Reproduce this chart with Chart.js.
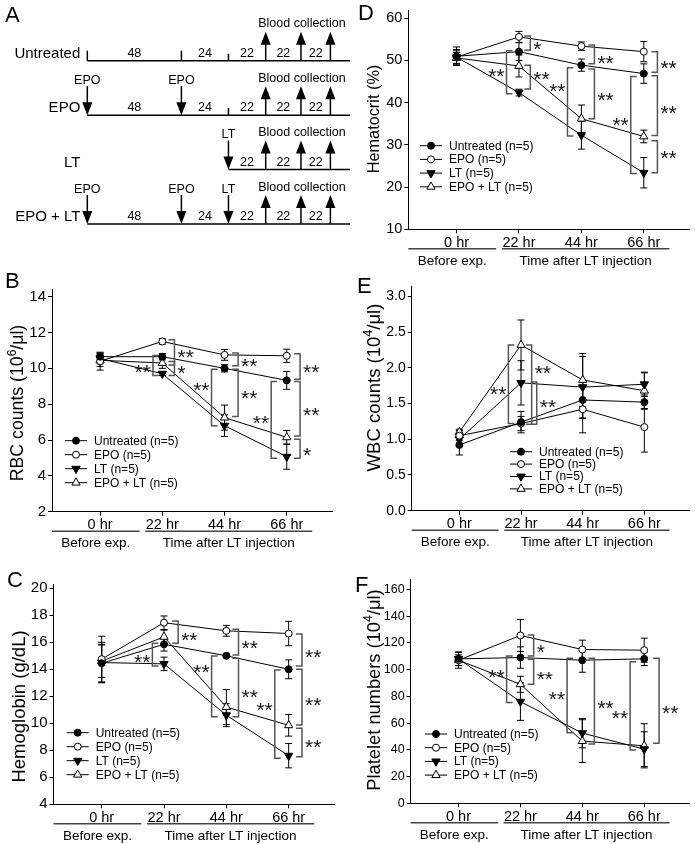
<!DOCTYPE html>
<html><head><meta charset="utf-8">
<script src="https://cdn.jsdelivr.net/npm/chart.js@4.4.1/dist/chart.umd.min.js"></script>
<style>
html,body{margin:0;padding:0;background:#fff;}
#fig{position:relative;width:695px;height:844px;overflow:hidden;font-family:"Liberation Sans",Arial,Helvetica,sans-serif;}
canvas{position:absolute;}
.lab{position:absolute;font-size:22px;line-height:1;color:#000;}
</style></head><body><div id="fig">
<canvas id="cA"></canvas><canvas id="cB"></canvas><canvas id="cC"></canvas>
<canvas id="cD"></canvas><canvas id="cE"></canvas><canvas id="cF"></canvas>
<div class="lab" style="left:5px;top:4px">A</div>
<div class="lab" style="left:5px;top:270px">B</div>
<div class="lab" style="left:7px;top:569px">C</div>
<div class="lab" style="left:358px;top:2px">D</div>
<div class="lab" style="left:357px;top:275px">E</div>
<div class="lab" style="left:355px;top:574px">F</div>
</div>
<script>
// ---------------- DATA ----------------
const hours = [0, 22, 44, 66];
const timeLabels = ['0 hr', '22 hr', '44 hr', '66 hr'];
const groupLabels = ['Before exp.', 'Time after LT injection'];
const groupSpans = [[-17, 14], [16, 75]];
const seriesNames = ['Untreated (n=5)', 'EPO (n=5)', 'LT (n=5)', 'EPO + LT (n=5)'];

// Panel A (schematic)
const groupRows = ['Untreated', 'EPO', 'LT', 'EPO + LT'];
const schemePos = [0, 48, 72, 91, 109, 124];   // schematic positions of events
const schemeEnd = 134;
const intervalLabels = ['48', '24', '22', '22', '22'];
const rowStart = [0, 0, 2, 0];
const rowInjections = [[], [[0, 'EPO'], [1, 'EPO']], [[2, 'LT']], [[0, 'EPO'], [1, 'EPO'], [2, 'LT']]];
const rowTicks = [[0, 1, 2], [2], [], []];
const collectIdx = [3, 4, 5];
const collectLabel = 'Blood collection';

// Panel B: RBC counts
const rbcTicks = [2, 4, 6, 8, 10, 12, 14];
const rbcUntreated = [10.65, 10.65, 10.0, 9.33];
const rbcUntreatedErr = [0.2, 0.18, 0.2, 0.5];
const rbcEPO = [10.4, 11.5, 10.75, 10.7];
const rbcEPOErr = [0.5, 0.15, 0.3, 0.37];
const rbcLT = [10.55, 9.7, 6.8, 5.07];
const rbcLTErr = [0.3, 0.1, 0.6, 0.7];
const rbcEPOLT = [10.45, 10.3, 7.25, 6.15];
const rbcEPOLTErr = [0.35, 0.3, 0.7, 0.38];
// significance brackets: [time, side, y1, y2, text, textY, dxHours]
const rbcSig = [
  [22, 'R', 11.59, 10.19, '**', 10.92, 4.3], [22, 'L', 10.72, 9.6, '**', 10.1, -3.3],
  [22, 'R', 10.38, 9.6, '*', 10.0, 4.3], [44, 'R', 10.85, 10.14, '**', 10.42, 4.8],
  [44, 'L', 9.95, 6.79, '**', 9.08, -4.6], [44, 'R', 9.95, 7.31, '**', 8.6, 4.8],
  [66, 'R', 10.81, 9.39, '**', 10.1, 4.7], [66, 'L', 9.26, 4.98, '**', 7.21, -5.5],
  [66, 'R', 9.26, 6.23, '**', 7.68, 4.7], [66, 'R', 6.04, 4.98, '*', 5.44, 4.7]
];

// Panel C: Hemoglobin
const hbTicks = [4, 6, 8, 10, 12, 14, 16, 18, 20];
const hbUntreated = [14.45, 15.85, 15.0, 14.0];
const hbUntreatedErr = [1.4, 0.5, 0.1, 0.7];
const hbEPO = [14.75, 17.45, 16.85, 16.65];
const hbEPOErr = [1.7, 0.5, 0.4, 0.9];
const hbLT = [14.5, 14.4, 10.6, 7.6];
const hbLTErr = [1.5, 0.5, 0.85, 0.9];
const hbEPOLT = [14.6, 16.4, 11.2, 9.85];
const hbEPOLTErr = [1.2, 0.5, 1.3, 0.8];
const hbSig = [
  [22, 'R', 17.58, 15.93, '**', 16.54, 5.0], [22, 'L', 15.93, 14.25, '**', 14.94, -4.1],
  [44, 'R', 16.96, 15.06, '**', 15.93, 4.3], [44, 'L', 14.99, 10.49, '**', 14.2, -5.2],
  [44, 'R', 14.81, 10.49, '**', 12.35, 4.3], [66, 'R', 16.62, 14.25, '**', 15.3, 4.7],
  [66, 'L', 13.95, 7.41, '**', 11.36, -4.9], [66, 'R', 14.0, 9.88, '**', 11.73, 4.7],
  [66, 'R', 9.63, 7.53, '**', 8.64, 4.7]
];

// Panel D: Hematocrit
const hctTicks = [10, 20, 30, 40, 50, 60];
const hctUntreated = [51.0, 52.1, 48.9, 46.9];
const hctUntreatedErr = [2.2, 2.1, 1.45, 2.3];
const hctEPO = [50.8, 55.6, 53.4, 52.1];
const hctEPOErr = [1.8, 1.3, 1.0, 2.4];
const hctLT = [50.8, 42.4, 32.3, 23.4];
const hctLTErr = [1.5, 0.8, 3.3, 3.6];
const hctEPOLT = [50.6, 48.7, 36.2, 32.0];
const hctEPOLTErr = [1.3, 2.6, 3.25, 1.5];
const hctSig = [
  [22, 'R', 55.8, 52.4, '*', 53.9, 4.0], [22, 'L', 52.3, 42.1, '**', 47.4, -4.4],
  [22, 'R', 48.9, 43.25, '**', 46.9, 4.0], [44, 'R', 53.7, 49.2, '**', 50.7, 4.6],
  [44, 'L', 48.3, 32.1, '**', 44.0, -4.9], [44, 'R', 47.97, 36.2, '**', 41.9, 4.6],
  [66, 'R', 52.1, 47.2, '**', 49.3, 4.8], [66, 'L', 46.2, 23.2, '**', 36.0, -4.6],
  [66, 'R', 46.4, 32.2, '**', 38.8, 4.8], [66, 'R', 31.0, 23.4, '**', 28.1, 4.8]
];

// Panel E: WBC counts
const wbcTicks = [0, 0.5, 1.0, 1.5, 2.0, 2.5, 3.0];
const wbcUntreated = [0.92, 1.24, 1.55, 1.52];
const wbcUntreatedErr = [0.14, 0.15, 0.26, 0.1];
const wbcEPO = [1.05, 1.22, 1.42, 1.17];
const wbcEPOErr = [0.07, 0.1, 0.33, 0.35];
const wbcLT = [1.0, 1.79, 1.73, 1.77];
const wbcLTErr = [0.1, 0.31, 0.43, 0.17];
const wbcEPOLT = [1.1, 2.32, 1.83, 1.68];
const wbcEPOLTErr = [0.04, 0.35, 0.37, 0.25];
const wbcSig = [
  [22, 'L', 2.32, 1.22, '**', 1.70, -4.5], [22, 'R', 2.32, 1.21, '**', 2.0, 3.8],
  [22, 'R', 1.80, 1.21, '**', 1.52, 5.6]
];

// Panel F: Platelet numbers
const pltTicks = [0, 20, 40, 60, 80, 100, 120, 140, 160];
const pltUntreated = [108, 109, 107, 108];
const pltUntreatedErr = [5, 8, 9, 5];
const pltEPO = [107, 125.5, 115, 114.5];
const pltEPOErr = [4, 12, 7, 9];
const pltLT = [108, 76, 52.5, 40.5];
const pltLTErr = [5, 14, 11, 13];
const pltEPOLT = [107, 89, 46.5, 43];
const pltEPOLTErr = [6, 6, 16, 16.5];
const pltSig = [
  [22, 'R', 125.9, 110.2, '*', 116.6, 4.7], [22, 'L', 110.2, 75.3, '**', 98.4, -4.9],
  [22, 'R', 107.7, 89.0, '**', 96.7, 4.7], [44, 'L', 108.4, 52.8, '**', 81.7, -5.4],
  [44, 'R', 108.4, 44.4, '**', 75.3, 4.3], [66, 'L', 105.9, 39.9, '**', 67.3, -5.0],
  [66, 'R', 108.4, 44.9, '**', 71.0, 5.3]
];

// ---------------- STYLE / HELPERS ----------------
const FONT = '"Liberation Sans", Arial, Helvetica, sans-serif';
Chart.defaults.font.family = FONT;
Chart.defaults.color = '#000';

const markerStyles = [
  {style: 'circle', rot: 0, r: 3.5, fill: '#000'},
  {style: 'circle', rot: 0, r: 3.5, fill: '#fff'},
  {style: 'triangle', rot: 180, r: 4.8, fill: '#000'},
  {style: 'triangle', rot: 0, r: 4.8, fill: '#fff'}
];

function drawMarker(ctx, m, x, y) {
  ctx.save();
  ctx.beginPath();
  if (m.style === 'circle') {
    ctx.arc(x, y, m.r, 0, Math.PI * 2);
  } else {
    let a = m.rot * Math.PI / 180;
    for (let k = 0; k < 3; k++) {
      const px = x + Math.sin(a) * m.r, py = y - Math.cos(a) * m.r;
      if (k === 0) ctx.moveTo(px, py); else ctx.lineTo(px, py);
      a += Math.PI * 2 / 3;
    }
    ctx.closePath();
  }
  ctx.fillStyle = m.fill; ctx.fill();
  ctx.lineWidth = 1; ctx.strokeStyle = '#000'; ctx.stroke();
  ctx.restore();
}

const errPlugin = {
  id: 'errbars',
  beforeDatasetsDraw(chart) {
    const {ctx, scales: {x, y}} = chart;
    ctx.save();
    ctx.strokeStyle = '#000'; ctx.lineWidth = 1;
    chart.data.datasets.forEach(ds => {
      ds.data.forEach((p, j) => {
        const e = ds.errors[j];
        const px = x.getPixelForValue(p.x);
        const y1 = y.getPixelForValue(p.y + e), y2 = y.getPixelForValue(p.y - e);
        ctx.beginPath();
        ctx.moveTo(px, y1); ctx.lineTo(px, y2);
        ctx.moveTo(px - 3.5, y1); ctx.lineTo(px + 3.5, y1);
        ctx.moveTo(px - 3.5, y2); ctx.lineTo(px + 3.5, y2);
        ctx.stroke();
      });
    });
    ctx.restore();
  }
};

const sigPlugin = {
  id: 'sig',
  afterDatasetsDraw(chart, args, o) {
    const {ctx, scales: {x, y}} = chart;
    ctx.save();
    o.items.forEach(([t, side, v1, v2, txt, tv, dx]) => {
      const xb = x.getPixelForValue(t + dx);
      const y1 = y.getPixelForValue(v1), y2 = y.getPixelForValue(v2);
      const arm = side === 'R' ? -6 : 6;
      ctx.strokeStyle = '#555'; ctx.lineWidth = 1.5;
      ctx.beginPath();
      ctx.moveTo(xb + arm, y1); ctx.lineTo(xb, y1); ctx.lineTo(xb, y2); ctx.lineTo(xb + arm, y2);
      ctx.stroke();
      ctx.fillStyle = '#1a1a1a';
      ctx.font = '21px ' + FONT;
      ctx.textBaseline = 'alphabetic';
      const ty = y.getPixelForValue(tv) + 12;
      if (side === 'R') { ctx.textAlign = 'left'; ctx.fillText(txt, xb + 3, ty); }
      else { ctx.textAlign = 'right'; ctx.fillText(txt, xb - 2, ty); }
    });
    ctx.restore();
  }
};

const keyPlugin = {
  id: 'keylegend',
  afterDraw(chart, args, o) {
    const ctx = chart.ctx;
    ctx.save();
    chart.data.datasets.forEach((ds, i) => {
      const yy = o.y + i * o.dy;
      ctx.strokeStyle = '#000'; ctx.lineWidth = 1;
      ctx.beginPath(); ctx.moveTo(o.x, yy); ctx.lineTo(o.x + 22, yy); ctx.stroke();
      drawMarker(ctx, markerStyles[i], o.x + 11, yy);
      ctx.fillStyle = '#000'; ctx.font = '12px ' + FONT;
      ctx.textAlign = 'left'; ctx.textBaseline = 'middle';
      ctx.fillText(ds.label, o.x + 29, yy + 0.5);
    });
    ctx.restore();
  }
};

const groupPlugin = {
  id: 'groups',
  afterDraw(chart) {
    const {ctx, chartArea, scales: {x}} = chart;
    ctx.save();
    groupSpans.forEach((sp, i) => {
      const x1 = x.getPixelForValue(sp[0]), x2 = x.getPixelForValue(sp[1]);
      const ly = chartArea.bottom + 19.5;
      ctx.strokeStyle = '#444'; ctx.lineWidth = 1.5;
      ctx.beginPath(); ctx.moveTo(x1, ly); ctx.lineTo(x2, ly); ctx.stroke();
      ctx.fillStyle = '#000'; ctx.font = '13.5px ' + FONT;
      ctx.textAlign = 'center'; ctx.textBaseline = 'alphabetic';
      ctx.fillText(groupLabels[i], (x1 + x2) / 2, chartArea.bottom + 35.5);
    });
    ctx.restore();
  }
};

const titlePlugin = {
  id: 'ytitle',
  afterDraw(chart, args, o) {
    const ctx = chart.ctx;
    const f = o.size;
    const big = f + 'px ' + FONT, small = (f * 0.68).toFixed(1) + 'px ' + FONT;
    ctx.save();
    ctx.translate(o.x, o.y); ctx.rotate(-Math.PI / 2);
    let total = 0;
    const widths = o.parts.map(p => { ctx.font = p[1] ? small : big; const w = ctx.measureText(p[0]).width; total += w; return w; });
    let cx = -total / 2;
    ctx.fillStyle = '#000'; ctx.textAlign = 'left'; ctx.textBaseline = 'alphabetic';
    const base = 0.36 * f;
    o.parts.forEach((p, i) => {
      ctx.font = p[1] ? small : big;
      ctx.fillText(p[0], cx, p[1] ? base - 0.42 * f : base);
      cx += widths[i];
    });
    ctx.restore();
  }
};

function place(id, box) {
  const cv = document.getElementById(id);
  cv.width = box.w; cv.height = box.h;
  cv.style.left = box.x + 'px'; cv.style.top = box.y + 'px';
  cv.style.width = box.w + 'px'; cv.style.height = box.h + 'px';
  return cv;
}

function dataChart(id, box, area, cfg) {
  const cv = place(id, box);
  const yW = area.l - box.x, xH = box.y + box.h - area.b;
  return new Chart(cv, {
    type: 'line',
    data: {
      datasets: cfg.series.map((s, i) => ({
        label: seriesNames[i],
        data: hours.map((h, j) => ({x: h, y: s[0][j]})),
        errors: s[1],
        borderColor: '#000', borderWidth: 1, tension: 0, fill: false,
        pointStyle: markerStyles[i].style, pointRotation: markerStyles[i].rot,
        pointRadius: markerStyles[i].r, pointBackgroundColor: markerStyles[i].fill,
        pointBorderColor: '#000', pointBorderWidth: 1, clip: false
      }))
    },
    options: {
      responsive: false, animation: false, devicePixelRatio: 1,
      events: [],
      layout: {padding: {left: 0, top: area.t - box.y, right: box.x + box.w - area.r, bottom: 0}},
      scales: {
        x: {
          type: 'linear', min: -17, max: 82,
          afterFit: s => { s.height = xH; },
          afterBuildTicks: s => { s.ticks = hours.map(v => ({value: v})); },
          ticks: {callback: v => timeLabels[hours.indexOf(v)], font: {size: 14.5}, color: '#000', padding: 1, maxRotation: 0, autoSkip: false},
          grid: {display: true, drawOnChartArea: false, drawTicks: true, tickLength: 4, color: '#000', lineWidth: 1},
          border: {display: true, color: '#000', width: 1}
        },
        y: {
          type: 'linear', min: cfg.min, max: cfg.max,
          afterFit: s => { s.width = yW; },
          afterBuildTicks: s => { s.ticks = cfg.ticks.map(v => ({value: v})); },
          ticks: {callback: v => cfg.fmt(v), font: {size: cfg.tickSize}, color: '#000', padding: 2},
          grid: {display: true, drawOnChartArea: false, drawTicks: true, tickLength: 4, color: '#000', lineWidth: 1},
          border: {display: true, color: '#000', width: 1}
        }
      },
      plugins: {
        legend: {display: false}, tooltip: {enabled: false},
        sig: {items: cfg.sig},
        keylegend: {x: cfg.key[0] - box.x, y: cfg.key[1] - box.y, dy: cfg.key[2]},
        ytitle: {parts: cfg.title, size: cfg.titleSize, x: cfg.titlePos[0] - box.x, y: cfg.titlePos[1] - box.y}
      }
    },
    plugins: [errPlugin, sigPlugin, keyPlugin, groupPlugin, titlePlugin]
  });
}

const intFmt = v => String(v);
const oneDec = v => v.toFixed(1);

dataChart('cB', {x: 0, y: 276, w: 345, h: 278}, {l: 52, r: 332, t: 289.5, b: 511.7}, {
  series: [[rbcUntreated, rbcUntreatedErr], [rbcEPO, rbcEPOErr], [rbcLT, rbcLTErr], [rbcEPOLT, rbcEPOLTErr]],
  min: 2, max: 14.4, ticks: rbcTicks, fmt: intFmt, tickSize: 15, sig: rbcSig,
  key: [65, 440.7, 14], title: [['RBC counts (10'], ['6', true], ['/\u03bcl)']], titleSize: 17.7, titlePos: [17, 403]
});
dataChart('cC', {x: 0, y: 566, w: 345, h: 278}, {l: 53.5, r: 334, t: 584.9, b: 804.3}, {
  series: [[hbUntreated, hbUntreatedErr], [hbEPO, hbEPOErr], [hbLT, hbLTErr], [hbEPOLT, hbEPOLTErr]],
  min: 4, max: 20.25, ticks: hbTicks, fmt: intFmt, tickSize: 15, sig: hbSig,
  key: [66.7, 732.7, 14], title: [['Hemoglobin (g/dL)']], titleSize: 18.5, titlePos: [18, 706.5]
});
dataChart('cD', {x: 350, y: 0, w: 345, h: 272}, {l: 408.3, r: 692, t: 9.7, b: 229.3}, {
  series: [[hctUntreated, hctUntreatedErr], [hctEPO, hctEPOErr], [hctLT, hctLTErr], [hctEPOLT, hctEPOLTErr]],
  min: 10, max: 61.8, ticks: hctTicks, fmt: intFmt, tickSize: 14.5, sig: hctSig,
  key: [420, 145.7, 13.7], title: [['Hematocrit (%)']], titleSize: 16.3, titlePos: [373, 119]
});
dataChart('cE', {x: 350, y: 276, w: 345, h: 278}, {l: 411.7, r: 693, t: 285, b: 510.7}, {
  series: [[wbcUntreated, wbcUntreatedErr], [wbcEPO, wbcEPOErr], [wbcLT, wbcLTErr], [wbcEPOLT, wbcEPOLTErr]],
  min: 0, max: 3.14, ticks: wbcTicks, fmt: oneDec, tickSize: 14, sig: wbcSig,
  key: [510, 451.7, 12.4], title: [['WBC counts (10'], ['4', true], ['/\u03bcl)']], titleSize: 18.5, titlePos: [373.3, 387.5]
});
dataChart('cF', {x: 350, y: 566, w: 345, h: 278}, {l: 410.7, r: 693, t: 579.3, b: 803.3}, {
  series: [[pltUntreated, pltUntreatedErr], [pltEPO, pltEPOErr], [pltLT, pltLTErr], [pltEPOLT, pltEPOLTErr]],
  min: 0, max: 167.5, ticks: pltTicks, fmt: intFmt, tickSize: 12.5, sig: pltSig,
  key: [425, 734, 13.7], title: [['Platelet numbers (10'], ['4', true], ['/\u03bcl)']], titleSize: 18.3, titlePos: [373.3, 690]
});

// ---------------- PANEL A ----------------
const schemePlugin = {
  id: 'scheme',
  afterDatasetsDraw(chart) {
    const {ctx, scales: {x, y}} = chart;
    const line = (x1, y1, x2, y2) => { ctx.beginPath(); ctx.moveTo(x1, y1); ctx.lineTo(x2, y2); ctx.stroke(); };
    const tri = (ax, ay, bx, by, cx, cy) => { ctx.beginPath(); ctx.moveTo(ax, ay); ctx.lineTo(bx, by); ctx.lineTo(cx, cy); ctx.closePath(); ctx.fill(); };
    ctx.save();
    ctx.fillStyle = '#000'; ctx.strokeStyle = '#000'; ctx.lineWidth = 1.5;
    ctx.font = '12.5px ' + FONT; ctx.textAlign = 'center'; ctx.textBaseline = 'alphabetic';
    groupRows.forEach((row, r) => {
      const yb = y.getPixelForValue(r);
      for (let k = rowStart[r]; k < intervalLabels.length; k++) {
        const xm = (x.getPixelForValue(schemePos[k]) + x.getPixelForValue(schemePos[k + 1])) / 2;
        ctx.fillText(intervalLabels[k], xm, yb - 4);
      }
      rowTicks[r].forEach(k => {
        const xp = x.getPixelForValue(schemePos[k]);
        line(xp, yb, xp, yb - (k === 2 ? 7 : 10));
      });
      rowInjections[r].forEach(([k, lab]) => {
        const xp = x.getPixelForValue(schemePos[k]);
        line(xp, yb - 29, xp, yb - 11);
        tri(xp - 5, yb - 13, xp + 5, yb - 13, xp, yb);
        ctx.fillText(lab, xp, yb - 31.5);
      });
      collectIdx.forEach(k => {
        const xp = x.getPixelForValue(schemePos[k]);
        line(xp, yb, xp, yb - 18);
        tri(xp - 5, yb - 16, xp + 5, yb - 16, xp, yb - 29);
      });
      ctx.fillText(collectLabel, x.getPixelForValue(schemePos[collectIdx[1]]) + 1, yb - 33.5);
    });
    ctx.restore();
  }
};

(function () {
  const box = {x: 0, y: 0, w: 352, h: 240};
  const area = {l: 87.3, r: 350, t: 60.7, b: 225};
  const cv = place('cA', box);
  new Chart(cv, {
    type: 'line',
    data: {
      datasets: groupRows.map((row, r) => ({
        label: row,
        data: [{x: schemePos[rowStart[r]], y: row}, {x: schemeEnd, y: row}],
        borderColor: '#000', borderWidth: 1.5, pointRadius: 0, clip: false
      }))
    },
    options: {
      responsive: false, animation: false, devicePixelRatio: 1, events: [],
      layout: {padding: {left: 0, top: area.t - box.y, right: box.x + box.w - area.r, bottom: box.y + box.h - area.b}},
      scales: {
        x: {type: 'linear', min: 0, max: schemeEnd, display: false},
        y: {
          type: 'category', labels: groupRows, offset: false,
          afterFit: s => { s.width = area.l - box.x; },
          ticks: {font: {size: 15}, color: '#000', padding: 7, labelOffset: -7},
          grid: {display: false, drawTicks: false}, border: {display: false}
        }
      },
      plugins: {legend: {display: false}, tooltip: {enabled: false}}
    },
    plugins: [schemePlugin]
  });
})();
</script>
</body></html>
